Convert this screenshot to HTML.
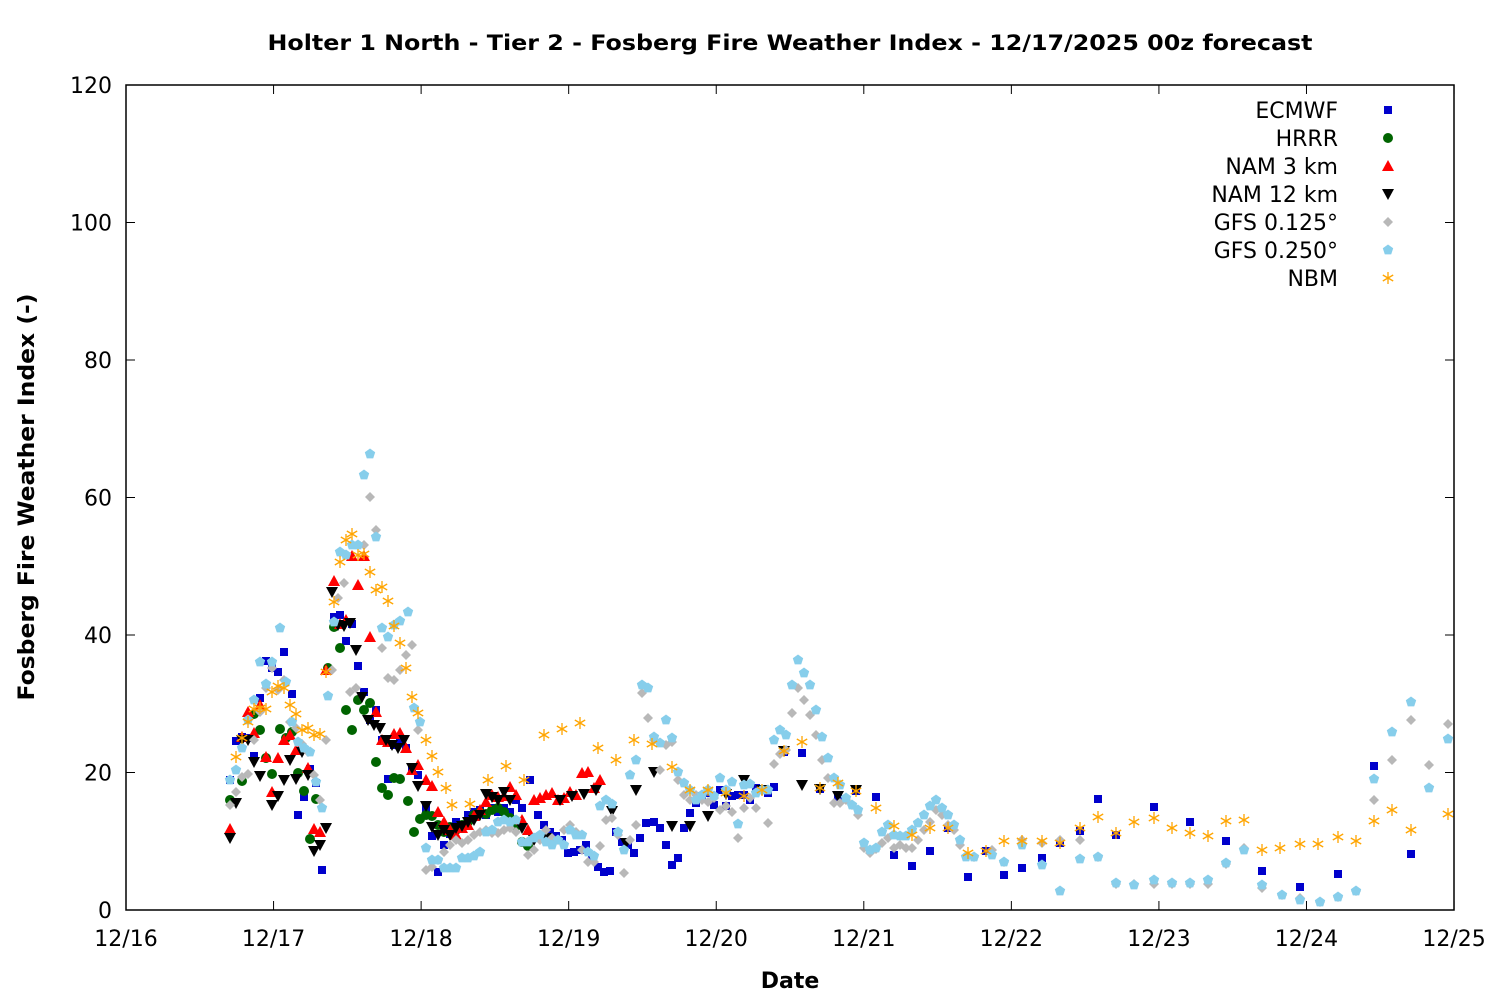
<!DOCTYPE html>
<html><head><meta charset="utf-8"><style>
html,body{margin:0;padding:0;background:#fff;}
svg{display:block;font-family:"DejaVu Sans","Liberation Sans",sans-serif;}
</style></head><body>
<svg id="s" width="1500" height="1000" xmlns="http://www.w3.org/2000/svg">
<rect width="1500" height="1000" fill="#fff"/>
<text x="790" y="50" text-anchor="middle" font-size="21" font-weight="bold" textLength="1045" lengthAdjust="spacingAndGlyphs">Holter 1 North - Tier 2 - Fosberg Fire Weather Index - 12/17/2025 00z forecast</text>
<text x="790" y="988" text-anchor="middle" font-size="22" font-weight="bold">Date</text>
<text transform="translate(34,497) rotate(-90)" text-anchor="middle" font-size="22" font-weight="bold" textLength="407" lengthAdjust="spacingAndGlyphs">Fosberg Fire Weather Index (-)</text>
<g id="ax"></g>
<g id="pts"></g>
<rect x="126" y="85" width="1328" height="825" fill="none" stroke="#000" stroke-width="1.5"/>
</svg>
<script>
var NS="http://www.w3.org/2000/svg";
function el(t,a,p){var e=document.createElementNS(NS,t);for(var k in a)e.setAttribute(k,a[k]);(p||document.getElementById('pts')).appendChild(e);return e;}
var ax=document.getElementById('ax');
for(var i=0;i<=6;i++){var y=910-i*137.5;
 el('line',{x1:126,x2:135,y1:y,y2:y,stroke:'#000'},ax);el('line',{x1:1445,x2:1454,y1:y,y2:y,stroke:'#000'},ax);
 var t=el('text',{x:112,y:y+8,'text-anchor':'end','font-size':22},ax);t.textContent=(i*20);}
var dl=['12/16','12/17','12/18','12/19','12/20','12/21','12/22','12/23','12/24','12/25'];
for(var i=0;i<10;i++){var x=126+i*147.56;
 el('line',{x1:x,x2:x,y1:910,y2:901,stroke:'#000'},ax);el('line',{x1:x,x2:x,y1:85,y2:94,stroke:'#000'},ax);
 var t=el('text',{x:x,y:946,'text-anchor':'middle','font-size':22},ax);t.textContent=dl[i];}
function mk(type,c,x,y){
 if(type=='sq')el('rect',{x:x-4,y:y-4,width:8,height:8,fill:c});
 else if(type=='ci')el('circle',{cx:x,cy:y,r:5,fill:c});
 else if(type=='tu')el('polygon',{points:(x-6)+','+(y+5)+' '+(x+6)+','+(y+5)+' '+x+','+(y-6),fill:c});
 else if(type=='td')el('polygon',{points:(x-6)+','+(y-5)+' '+(x+6)+','+(y-5)+' '+x+','+(y+6),fill:c});
 else if(type=='di')el('polygon',{points:x+','+(y-5)+' '+(x+5)+','+y+' '+x+','+(y+5)+' '+(x-5)+','+y,fill:c});
 else if(type=='pe'){var p=[];for(var k=0;k<5;k++){var a=-Math.PI/2+k*2*Math.PI/5;p.push((x+5.5*Math.cos(a)).toFixed(1)+','+(y+5.5*Math.sin(a)).toFixed(1));}el('polygon',{points:p.join(' '),fill:c});}
 else if(type=='as'){for(var k=0;k<3;k++){var a=Math.PI/2+k*Math.PI/3;el('line',{x1:x-6*Math.cos(a),y1:y-6*Math.sin(a),x2:x+6*Math.cos(a),y2:y+6*Math.sin(a),stroke:c,'stroke-width':1.3});}}
}
function P(s){var a=s.split(/[\s,]+/).map(Number),r=[];for(var i=0;i+1<a.length;i+=2)r.push([a[i],a[i+1]]);return r;}
var S=[
['ECMWF','sq','#0000cc',P("230 780 236 741 242 737 248 738 254 756 260 698 266 661 272 668 278 672 284 652 292 694 298 815 304 797 310 769 316 783 322 870 328 669 334 617 340 615 346 641 352 624 358 666 364 692 370 720 376 710 382 740 388 779 394 745 400 740 406 748 412 767 418 775 426 808 432 836 438 872 444 845 450 834 456 822 462 826 468 815 474 812 480 810 486 815 492 808 498 812 504 808 510 812 516 800 522 808 530 780 538 815 544 825 550 832 556 836 562 840 568 853 574 852 580 850 586 845 592 860 598 867 604 872 610 871 616 832 622 842 628 845 634 853 640 838 646 823 654 822 660 828 666 845 672 865 678 858 684 828 690 813 696 803 702 796 708 793 714 805 720 790 726 806 732 796 738 795 744 795 750 800 756 788 762 790 768 793 774 787 784 752 802 753 820 789 838 797 856 791 876 797 894 855 912 866 930 851 948 828 968 877 986 851 1004 875 1022 868 1042 858 1060 843 1080 831 1098 799 1116 835 1154 807 1190 822 1226 841 1262 871 1300 887 1338 874 1374 766 1411 854")],
['HRRR','ci','#006400',P("230 800 242 781 254 714 260 730 266 758 272 774 280 729 286 738 292 732 298 773 304 791 310 839 316 799 328 668 334 627 340 648 346 710 352 730 358 700 364 710 370 703 376 762 382 788 388 795 394 778 400 779 408 801 414 832 420 819 426 815 432 816 438 825 444 832 450 827 456 830 462 825 468 822 474 815 480 812 486 814 492 810 498 808 504 812 510 818 516 826 522 842 528 846")],
['NAM 3 km','tu','#ff0000',P("230 829 242 737 248 712 254 733 260 705 266 757 272 792 278 758 284 740 290 735 296 750 302 745 308 768 314 829 320 832 326 670 334 581 340 624 346 620 352 556 358 585 364 556 370 637 376 712 382 740 388 742 394 734 400 733 406 748 412 770 418 765 426 780 432 786 438 812 444 822 450 830 456 835 462 828 468 825 474 816 480 810 486 802 492 795 498 797 504 796 510 787 516 795 522 820 528 830 534 800 540 798 546 795 552 793 558 800 564 798 570 792 576 795 582 773 588 772 594 788 600 780")],
['NAM 12 km','td','#000000',P("230 838 236 803 242 740 248 740 254 762 260 776 272 805 278 796 284 780 290 760 296 779 302 752 308 775 314 851 320 845 326 828 332 592 338 625 344 626 350 623 356 650 362 697 368 720 374 725 380 728 386 740 392 745 398 748 404 740 412 768 418 786 426 806 432 827 438 835 444 830 450 835 456 828 462 826 468 822 474 820 480 815 486 794 492 797 498 800 504 792 510 800 522 828 534 840 546 838 560 800 572 796 584 794 596 790 612 811 626 843 636 790 654 772 672 826 690 826 708 816 726 794 744 780 762 790 784 751 802 785 820 789 838 796 856 790")],
['GFS 0.125°','di','#b8b8b8',P("230 805 236 792 242 777 248 774 254 740 260 712 266 688 272 668 278 690 284 680 290 722 296 728 302 744 308 752 314 775 320 800 326 740 332 670 338 598 344 583 350 692 356 688 364 545 370 497 376 530 382 648 388 678 394 680 400 670 406 655 412 645 418 730 426 870 432 867 438 860 444 852 450 845 456 840 462 843 468 840 474 835 480 832 486 830 492 833 498 833 504 830 510 828 516 832 522 842 528 855 534 850 540 840 546 830 552 838 558 840 564 830 570 825 576 832 582 850 588 862 594 862 600 846 606 820 612 818 618 835 624 873 630 840 636 825 642 693 648 718 654 740 660 770 666 745 672 742 678 780 684 795 690 800 696 795 702 800 708 802 714 798 720 810 726 806 732 812 738 838 744 808 750 798 756 808 762 790 768 823 774 764 780 754 786 750 792 713 798 688 804 700 810 715 816 735 822 760 828 778 834 803 840 803 846 800 852 805 858 815 864 848 870 853 876 849 882 843 888 838 894 848 900 845 906 848 912 848 918 840 924 830 930 822 936 810 942 815 948 825 954 830 960 845 966 856 974 857 992 850 1004 862 1022 840 1042 843 1060 840 1080 840 1098 857 1116 884 1134 884 1154 884 1172 884 1190 884 1208 884 1226 864 1244 848 1262 888 1282 895 1300 898 1320 902 1338 897 1356 891 1374 800 1392 760 1411 720 1429 765 1448 724")],
['GFS 0.250°','pe','#87ceeb',P("230 780 236 770 242 748 248 720 254 700 260 662 266 684 272 662 280 628 286 682 292 722 298 742 304 748 310 752 316 782 322 808 328 696 334 622 340 552 346 555 352 545 358 545 364 475 370 454 376 537 382 628 388 637 394 625 400 621 408 612 414 708 420 722 426 848 432 860 438 860 444 868 450 868 456 868 462 858 468 858 474 856 480 852 486 832 492 830 498 822 504 820 510 822 516 820 522 842 528 842 534 838 540 835 546 842 552 845 558 840 564 845 570 830 576 835 582 835 588 852 594 856 600 806 606 800 612 804 618 832 624 850 630 775 636 760 642 685 648 688 654 737 660 743 666 720 672 738 678 772 684 783 690 790 696 800 702 795 708 790 714 796 720 778 726 790 732 782 738 824 744 785 750 784 756 793 762 790 768 790 774 740 780 730 786 735 792 685 798 660 804 673 810 685 816 710 822 737 828 758 834 778 840 785 846 798 852 805 858 810 864 843 870 850 876 848 882 832 888 825 894 835 900 836 906 836 912 830 918 823 924 815 930 806 936 800 942 808 948 815 954 825 960 840 966 857 974 857 992 855 1004 862 1022 845 1042 865 1060 891 1080 859 1098 857 1116 883 1134 885 1154 880 1172 883 1190 883 1208 880 1226 863 1244 850 1262 885 1282 895 1300 900 1320 902 1338 897 1356 891 1374 779 1392 732 1411 702 1429 788 1448 739")],
['NBM','as','#ffa500',P("236 757 242 738 248 722 254 709 260 708 266 709 272 692 278 686 284 688 290 705 296 714 302 730 308 728 314 735 320 734 326 672 334 602 340 562 346 540 352 534 358 555 364 554 370 572 376 590 382 587 388 601 394 626 400 643 406 668 412 697 418 713 426 740 432 756 438 772 446 788 452 805 470 804 488 780 506 766 524 780 544 735 562 729 580 723 598 748 616 760 634 740 652 744 672 767 690 790 708 790 726 793 744 796 762 790 784 751 802 742 820 788 838 783 856 791 876 808 894 826 912 835 930 828 948 828 968 853 986 851 1004 841 1022 841 1042 841 1060 843 1080 828 1098 817 1116 833 1134 822 1154 818 1172 828 1190 833 1208 836 1226 821 1244 820 1262 850 1280 848 1300 844 1318 844 1338 837 1356 841 1374 821 1392 810 1411 830 1448 814")]
];
S.forEach(function(s,i){
 s[3].forEach(function(p){mk(s[1],s[2],p[0],p[1]);});
 var ly=110+i*28;
 var t=el('text',{x:1338,y:ly+8,'text-anchor':'end','font-size':22});t.textContent=s[0];
 mk(s[1],s[2],1388,ly);
});
</script>
</body></html>
